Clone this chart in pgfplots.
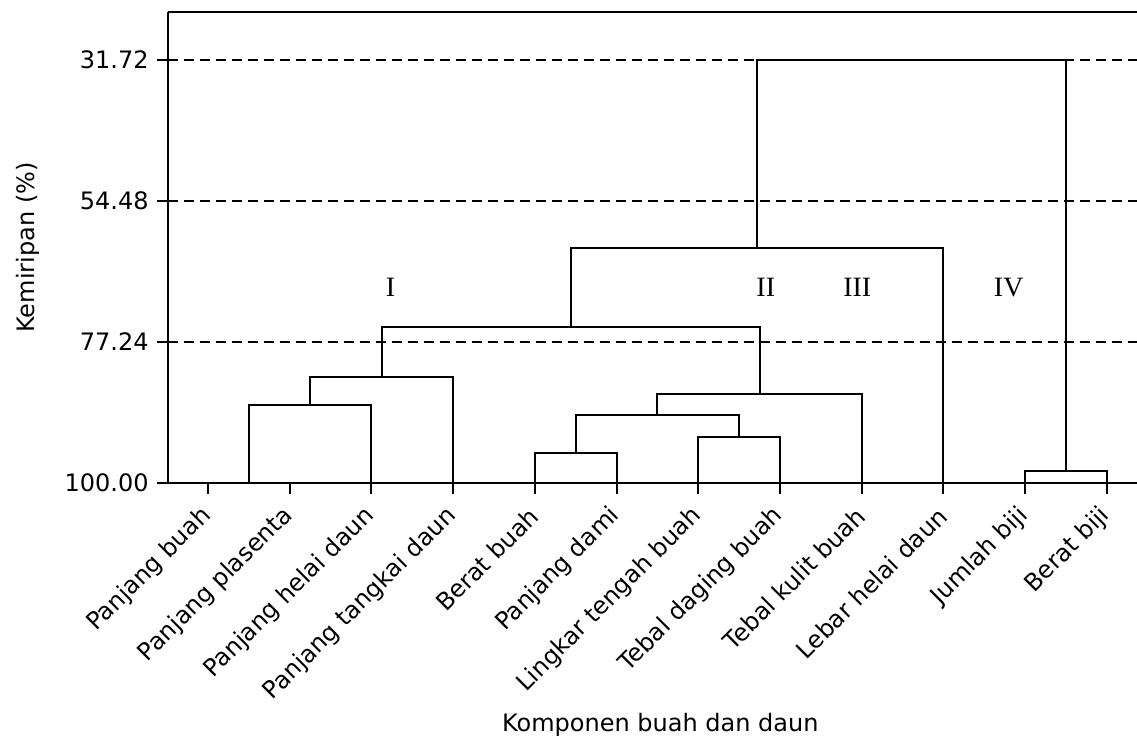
\documentclass[border=0pt]{standalone}
\usepackage{fontspec}
\setmainfont{DejaVu Sans}
\newfontfamily\romanfont{Liberation Serif}
\usepackage{pgfplots}
\pgfplotsset{compat=1.18}
\begin{document}
\fontsize{12}{14}\selectfont
\begin{tikzpicture}
\path[use as bounding box] (-84pt,-131pt) rectangle (484.5pt,241.5pt);
\begin{axis}[
  at={(0pt,0pt)}, anchor=south west,
  scale only axis, width=484.5pt, height=235.5pt,
  xmin=-0.49, xmax=11.37,
  ymin=24, ymax=100, y dir=reverse,
  axis x line*=box, axis y line*=left,
  axis line style={line width=1pt, black},
  xtick={0,1,2,3,4,5,6,7,8,9,10,11},
  xticklabels={Panjang buah, Panjang plasenta, Panjang helai daun, Panjang tangkai daun, Berat buah, Panjang dami, Lingkar tengah buah, Tebal daging buah, Tebal kulit buah, Lebar helai daun, Jumlah biji, Berat biji},
  ytick={31.72,54.48,77.24,100},
  yticklabels={31.72,54.48,77.24,100.00},
  xtick pos=left, ytick pos=left,
  tick align=outside,
  major tick length=5.5pt,
  every tick/.style={black, line width=1pt},
  xticklabel style={xshift=2.5pt, yshift=-6pt, rotate=45, anchor=east},
  ymajorgrids,
  grid style={line width=1pt, black, dash pattern=on 5pt off 3pt},
  xlabel={Komponen buah dan daun},
  ylabel={Kemiripan (\%)},
  xlabel style={at={(axis description cs:0.508,-0.514)}, anchor=center},
  ylabel style={at={(axis description cs:-0.1445,0.5)}, anchor=center},
  clip=false,
  dendro/.style={black, line width=1pt, line join=miter, mark=none},
]
% merges: (left child x, left child height) -> merge height -> (right child x, right child height)
\addplot[dendro] coordinates {(0.5,100) (0.5,87.4) (2,87.4) (2,100)};
\addplot[dendro] coordinates {(1.25,87.4) (1.25,82.9) (3,82.9) (3,100)};
\addplot[dendro] coordinates {(4,100) (4,95.2) (5,95.2) (5,100)};
\addplot[dendro] coordinates {(6,100) (6,92.6) (7,92.6) (7,100)};
\addplot[dendro] coordinates {(4.5,95.2) (4.5,89.0) (6.5,89.0) (6.5,92.6)};
\addplot[dendro] coordinates {(5.5,89.0) (5.5,85.6) (8,85.6) (8,100)};
\addplot[dendro] coordinates {(2.125,82.9) (2.125,74.9) (6.75,74.9) (6.75,85.6)};
\addplot[dendro] coordinates {(4.4375,74.9) (4.4375,62.0) (9,62.0) (9,100)};
\addplot[dendro] coordinates {(10,100) (10,98.0) (11,98.0) (11,100)};
\addplot[dendro] coordinates {(6.72,62.0) (6.72,31.72) (10.5,31.72) (10.5,98.0)};
\node[font=\romanfont\fontsize{14}{16}\selectfont] at (axis cs:2.233,68.5) {I};
\node[font=\romanfont\fontsize{14}{16}\selectfont] at (axis cs:6.827,68.5) {II};
\node[font=\romanfont\fontsize{14}{16}\selectfont] at (axis cs:7.947,68.5) {III};
\node[font=\romanfont\fontsize{14}{16}\selectfont] at (axis cs:9.80,68.5) {IV};
\end{axis}
\end{tikzpicture}
\end{document}
